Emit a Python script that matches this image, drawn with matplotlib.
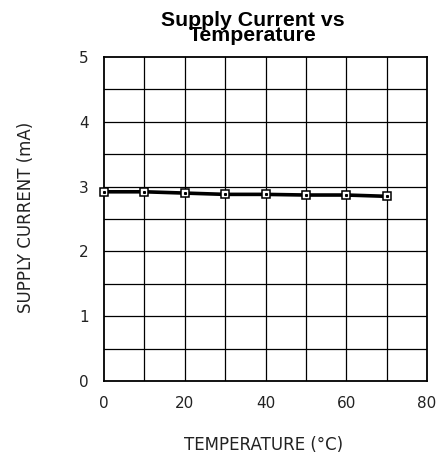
import matplotlib
matplotlib.use('Agg')
import matplotlib.pyplot as plt
import numpy as np

# Data
temperature = [0, 10, 20, 30, 40, 50, 60, 70]
supply_current = [2.92, 2.92, 2.90, 2.88, 2.88, 2.87, 2.87, 2.85]

x_ticks = [0, 20, 40, 60, 80]
y_ticks = [0, 1, 2, 3, 4, 5]

fig = plt.figure(figsize=(4.41, 4.59), dpi=100)
ax = fig.add_axes([104 / 441, 1 - 381 / 459, 323 / 441, 324 / 459])

ax.set_xlim(0, 80)
ax.set_ylim(0, 5)

# grid every 10 degC and 0.5 mA
for gx in np.arange(10, 80, 10):
    ax.axvline(gx, color='black', linewidth=0.9, zorder=1)
for gy in np.arange(0.5, 5, 0.5):
    ax.axhline(gy, color='black', linewidth=0.9, zorder=1)

ax.plot(temperature, supply_current, color='black', linewidth=2.6,
        marker='s', markersize=5.5, markerfacecolor='white',
        markeredgecolor='black', markeredgewidth=1.1, zorder=3, clip_on=False)
ax.plot(temperature, supply_current, linestyle='none', marker='s',
        markersize=1.2, color='black', zorder=4, clip_on=False)

ax.set_xticks(x_ticks)
ax.set_yticks(y_ticks)
ax.tick_params(length=0, labelsize=11, colors='#222222')
ax.tick_params(axis='x', pad=11)
ax.tick_params(axis='y', pad=11)
for s in ax.spines.values():
    s.set_linewidth(1.3)

fig.text(26 / 441, 1 - 217 / 459, 'SUPPLY CURRENT (mA)', rotation=90,
         ha='center', va='center', fontsize=12, family='DejaVu Sans',
         color='#222222')
fig.text(264 / 441, 1 - 445 / 459, 'TEMPERATURE (°C)', ha='center',
         va='center', fontsize=12, family='DejaVu Sans', color='#222222')

fig.text(253 / 441, 1 - 28 / 459, 'Supply Current vs\nTemperature',
         ha='center', va='center', fontsize=15.3, fontweight='bold',
         family='Liberation Sans', linespacing=0.78)

fig.savefig('out.png', dpi=100)
